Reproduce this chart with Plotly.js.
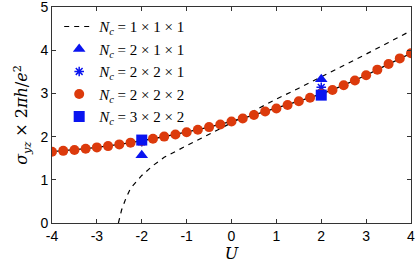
<!DOCTYPE html>
<html>
<head>
<meta charset="utf-8">
<script src="https://cdn.plot.ly/plotly-3.0.1.min.js"></script>
<style>html,body{margin:0;padding:0;background:#fff;}#chart{width:416px;height:267px;}</style>
</head>
<body>
<div id="chart"></div>
<script>
// N_c = 1x1x1 (dashed)
const U1 = [-2.52, -2.45, -2.35, -2.25, -2.0, -1.75, -1.5, -1.25, -1.0, -0.75, -0.5, -0.25, 0, 0.25, 0.5, 0.75, 1.0, 1.5, 2.0, 2.5, 3.0, 3.5, 4.0];
const S1 = [0, 0.3, 0.58, 0.8, 1.1, 1.33, 1.52, 1.66, 1.79, 1.92, 2.05, 2.18, 2.32, 2.46, 2.6, 2.74, 2.87, 3.12, 3.38, 3.65, 3.91, 4.18, 4.45];
// N_c = 2x2x2 (red dots)
const U2 = [-4, -3.75, -3.5, -3.25, -3, -2.75, -2.5, -2.25, -2, -1.75, -1.5, -1.25, -1, -0.75, -0.5, -0.25, 0, 0.25, 0.5, 0.75, 1, 1.25, 1.5, 1.75, 2, 2.25, 2.5, 2.75, 3, 3.25, 3.5, 3.75, 4];
const S2 = [1.65, 1.67, 1.69, 1.72, 1.75, 1.78, 1.82, 1.86, 1.9, 1.95, 2.0, 2.05, 2.1, 2.16, 2.22, 2.28, 2.35, 2.42, 2.5, 2.58, 2.65, 2.73, 2.82, 2.9, 2.99, 3.08, 3.19, 3.3, 3.42, 3.55, 3.68, 3.81, 3.93];
// N_c = 2x1x1 (triangles)
const U3 = [-2, 2];
const S3 = [1.57, 3.33];
// N_c = 2x2x1 (stars)
const U4 = [-2, 2];
const S4 = [1.88, 3.14];
// N_c = 3x2x2 (squares)
const U5 = [-2, 2];
const S5 = [1.92, 2.96];

const blue = '#0a14f0';
const red = '#dc3a0c';
const nc = (s) => '<i>N</i><sub><i>c</i></sub> = ' + s;

const traces = [
  {x: U1, y: S1, mode: 'lines', name: nc('1 × 1 × 1'), line: {color: '#000', width: 1.2, dash: '5px,5px'}},
  {x: U2, y: S2, mode: 'lines', showlegend: false, line: {color: '#000', width: 1.3}, hoverinfo: 'skip'},
  {x: U3, y: S3, mode: 'markers', name: nc('2 × 1 × 1'), marker: {symbol: 'triangle-up', size: 11, color: blue}},
  {x: U4, y: S4, mode: 'markers', name: nc('2 × 2 × 1'), marker: {symbol: 'asterisk-open', size: 8, color: blue, line: {color: blue, width: 1.5}}},
  {x: U2, y: S2, mode: 'markers', name: nc('2 × 2 × 2'), marker: {symbol: 'circle', size: 10, color: red}},
  {x: U5, y: S5, mode: 'markers', name: nc('3 × 2 × 2'), marker: {symbol: 'square', size: 11, color: blue}}
];

const axisCommon = {
  showline: true, linecolor: '#333', linewidth: 1, mirror: 'ticks',
  ticks: 'inside', ticklen: 4, tickcolor: '#333', showgrid: false, zeroline: false,
  ticklabeloverflow: 'allow',
  tickfont: {family: 'Liberation Sans, Arial, sans-serif', size: 14, color: '#000'}
};

const layout = {
  width: 416, height: 267,
  margin: {l: 52, r: 5, t: 7, b: 44},
  paper_bgcolor: '#fff', plot_bgcolor: '#fff',
  showlegend: true,
  xaxis: Object.assign({}, axisCommon, {
    range: [-4, 4], tickvals: [-4, -3, -2, -1, 0, 1, 2, 3, 4],
    ticktext: ['-4', '-3', '-2', '-1', '0', '1', '2', '3', '4'],
    title: {text: '<i>U</i>', font: {family: 'DejaVu Serif, serif', size: 16, color: '#000'}, standoff: 4}
  }),
  yaxis: Object.assign({}, axisCommon, {
    range: [0, 5], tickvals: [0, 1, 2, 3, 4, 5],
    title: {text: '<i>σ</i><sub><i>yz</i></sub> × 2<i>πh</i>/<i>e</i><sup>2</sup>', font: {family: 'DejaVu Serif, serif', size: 16, color: '#000'}, standoff: 8}
  }),
  legend: {
    x: 0.02, y: 0.985, xanchor: 'left', yanchor: 'top',
    bgcolor: 'rgba(255,255,255,0)', borderwidth: 0,
    font: {family: 'Liberation Serif, DejaVu Serif, serif', size: 15, color: '#000'},
    itemwidth: 30, tracegroupgap: 0
  }
};

Plotly.newPlot('chart', traces, layout, {displayModeBar: false, staticPlot: true});
</script>
</body>
</html>
